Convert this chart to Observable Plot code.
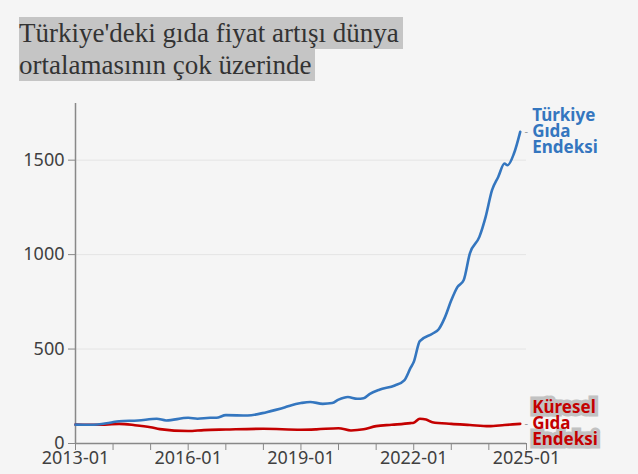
<!DOCTYPE html>
<html><head><meta charset="utf-8">
<script src="https://cdn.jsdelivr.net/npm/d3@7"></script>
<script src="https://cdn.jsdelivr.net/npm/@observablehq/plot@0.6"></script>
<style>
html,body{margin:0;padding:0;background:#f5f5f5;}
body{width:638px;height:474px;overflow:hidden;position:relative;font-family:"Noto Sans",sans-serif;}
#title{position:absolute;left:19px;top:17px;font-family:"Liberation Serif",serif;font-size:27px;color:#333;}
#title .hl{display:inline-block;height:32px;line-height:32px;background:#c5c5c5;padding-right:4px;white-space:nowrap;}
#chart{position:absolute;left:0;top:90px;}
</style></head>
<body>
<div id="title"><div><span class="hl">Türkiye'deki gıda fiyat artışı dünya</span></div><div><span class="hl">ortalamasının çok üzerinde</span></div></div>
<div id="chart"></div>
<script>
// Türkiye food price index (2013-01 = 100)
const turkeyDates = ["2013-01","2013-06","2013-12","2014-03","2014-09","2015-03","2015-06","2016-01","2016-04","2016-08","2016-10","2017-01","2017-08","2018-02","2018-05","2018-08","2018-10","2019-01","2019-04","2019-08","2019-11","2020-01","2020-04","2020-07","2020-09","2020-11","2021-02","2021-07","2021-10","2021-12","2022-01","2022-03","2022-07","2022-09","2022-11","2023-01","2023-03","2023-05","2023-07","2023-10","2023-12","2024-02","2024-04","2024-06","2024-07","2024-09","2024-11"];
const turkeyValues = [100,99,110,118,122,131,122,136,131,136,136,150,148,166,178,192,203,214,220,210,214,232,246,237,240,263,285,307,334,400,431,542,581,605,669,758,828,864,1007,1094,1200,1341,1411,1482,1473,1535,1650];
// Global food price index (2013-01 = 100)
const worldDates = ["2013-01","2013-08","2014-03","2014-08","2015-01","2015-04","2016-01","2016-06","2017-01","2018-01","2019-01","2019-06","2020-01","2020-05","2020-09","2021-01","2021-06","2021-12","2022-01","2022-03","2022-05","2022-07","2023-01","2023-07","2024-01","2024-06","2024-11"];
const worldValues = [100,99,104,97,86,76,66,71,74,78,73,75,81,69,75,92,99,108,110,131,127,113,104,98,92,98,104];
const yTicks = [0,500,1000,1500];
const xStart = "2013-01", xEnd = "2025-01";
const labels = {turkey:"Türkiye\nGıda\nEndeksi", world:"Küresel\nGıda\nEndeksi", worldHighlight:"Küresel\n\u2003\nEndeksi"};

const blue = "#3476bf", red = "#c40000";
const parse = d3.utcParse("%Y-%m");
const turkey = turkeyDates.map((d,i)=>({date:parse(d), value:turkeyValues[i]}));
const world = worldDates.map((d,i)=>({date:parse(d), value:worldValues[i]}));
const tLast = turkey[turkey.length-1], wLast = world[world.length-1];
const fmt = d3.utcFormat("%Y-%m");
const labelFont = {fontWeight:"bold", fontSize:17, lineHeight:0.93, dx:12, textAnchor:"start"};

const chart = Plot.plot({
  width:638, height:384,
  marginTop:13, marginBottom:31, marginLeft:75, marginRight:112,
  style:{background:"transparent", fontFamily:"'Noto Sans', sans-serif", fontSize:"18px", color:"#404040", overflow:"visible"},
  x:{type:"utc", domain:[parse(xStart), parse(xEnd)]},
  y:{domain:[0,1800]},
  marks:[
    Plot.gridY(yTicks.filter(d=>d>0), {stroke:"#e4e4e4", strokeOpacity:1, strokeWidth:1}),
    Plot.axisY(yTicks, {tickSize:7, stroke:"#888", fill:"#404040", fontSize:18, label:null, tickPadding:4, tickFormat:"d"}),
    Plot.axisX({ticks:d3.utcYear.every(1), tickSize:7, stroke:"#888", fill:"#404040", fontSize:18, label:null, tickPadding:1,
      tickFormat:d=> d.getUTCFullYear()%3===0 ? fmt(d) : ""}),
    Plot.ruleX([parse(xStart)], {stroke:"#888", strokeWidth:1.5}),
    Plot.ruleY([0], {stroke:"#888", strokeWidth:1.5}),
    Plot.lineY(world, {x:"date", y:"value", stroke:red, strokeWidth:2.6, curve:"monotone-x"}),
    Plot.lineY(turkey, {x:"date", y:"value", stroke:blue, strokeWidth:2.6, curve:"monotone-x"}),
    Plot.text([tLast, wLast], {x:"date", y:"value", text:()=>"-", fill:"#999", fontSize:11, dx:6, textAnchor:"middle"}),
    Plot.text([tLast], {x:"date", y:"value", text:()=>labels.turkey, fill:blue, ...labelFont}),
    Plot.text([wLast], {x:"date", y:"value", text:()=>labels.worldHighlight, fill:"#c2c2c2", stroke:"#c2c2c2", strokeWidth:7, strokeLinejoin:"miter", ...labelFont}),
    Plot.text([wLast], {x:"date", y:"value", text:()=>labels.world, fill:red, ...labelFont})
  ]
});
document.getElementById("chart").appendChild(chart);
</script>
</body></html>
